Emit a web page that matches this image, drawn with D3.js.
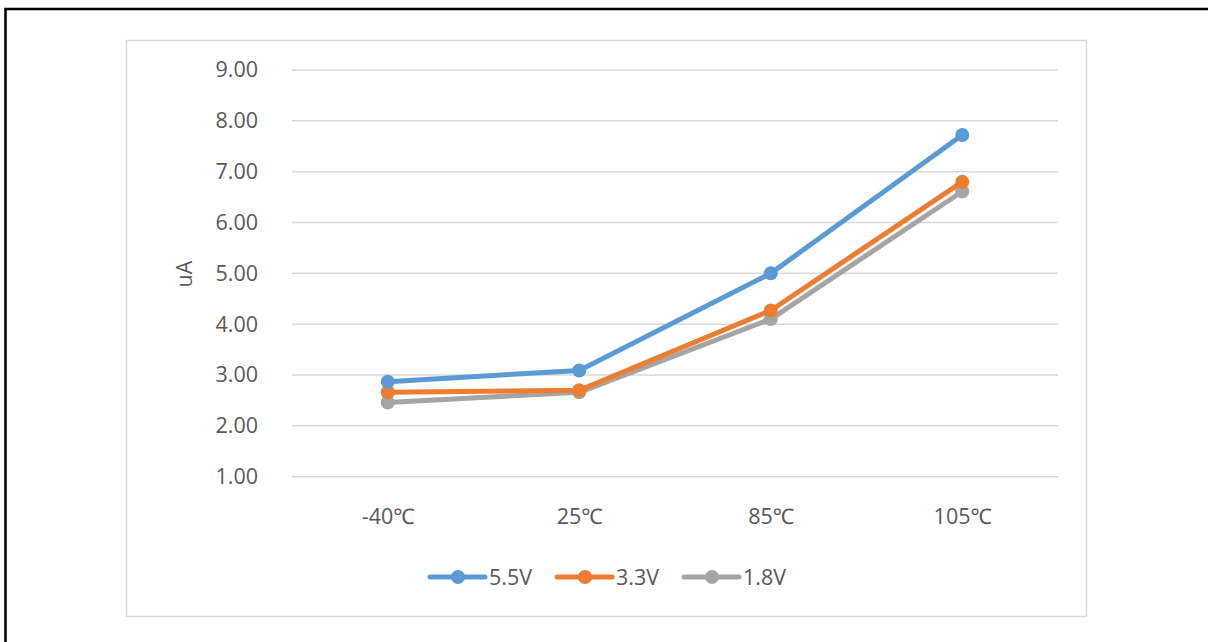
<!DOCTYPE html>
<html>
<head>
<meta charset="utf-8">
<script src="https://cdn.jsdelivr.net/npm/d3@7"></script>
<style>
  html, body { margin: 0; padding: 0; background: #fff; }
  svg { display: block; font-family: "Open Sans", "Noto Sans", sans-serif; }
</style>
</head>
<body>
<svg id="chart" width="1208" height="642"></svg>
<script>
// Supply current (uA) vs temperature for three supply voltages
const categories = ["-40℃", "25℃", "85℃", "105℃"];
const seriesNames = ["5.5V", "3.3V", "1.8V"];
const values55 = [2.87, 3.09, 5.00, 7.72];
const values33 = [2.66, 2.70, 4.27, 6.80];
const values18 = [2.46, 2.66, 4.10, 6.61];
const yTicks = [1, 2, 3, 4, 5, 6, 7, 8, 9];
const colors = ["#5B9BD5", "#ED7D31", "#A5A5A5"];

const series = seriesNames.map((name, i) => ({
  name,
  color: colors[i],
  values: [values55, values33, values18][i]
}));

const svg = d3.select("#chart");
const textColor = "#595959";
const fontSize = 21.5;

// outer frame
svg.append("rect")
  .attr("x", 5.5).attr("y", 9)
  .attr("width", 1220).attr("height", 660)
  .attr("fill", "none").attr("stroke", "#000").attr("stroke-width", 2.5);

// chart area border
svg.append("rect")
  .attr("x", 126.5).attr("y", 40.5)
  .attr("width", 960).attr("height", 576)
  .attr("fill", "#fff").attr("stroke", "#d9d9d9").attr("stroke-width", 1.5);

const plot = { left: 292, right: 1058, top: 70, bottom: 476.7 };

const x = d3.scalePoint()
  .domain(categories)
  .range([plot.left, plot.right])
  .padding(0.5);

const y = d3.scaleLinear()
  .domain([1, 9])
  .range([plot.bottom, plot.top]);

// horizontal gridlines
svg.append("g")
  .selectAll("line")
  .data(yTicks)
  .join("line")
  .attr("x1", plot.left).attr("x2", plot.right)
  .attr("y1", d => y(d)).attr("y2", d => y(d))
  .attr("stroke", "#d9d9d9").attr("stroke-width", 1.5);

// y axis labels
const yAxis = svg.append("g")
  .attr("transform", `translate(${plot.left - 34},0)`)
  .call(d3.axisLeft(y).tickValues(yTicks).tickFormat(d3.format(".2f")).tickSize(0).tickPadding(0));
yAxis.select(".domain").remove();
yAxis.selectAll("text")
  .attr("fill", textColor)
  .attr("font-size", fontSize)
  .attr("font-family", "\"Open Sans\", \"Noto Sans\", sans-serif");

// x axis labels
const xAxis = svg.append("g")
  .attr("transform", `translate(0,${plot.bottom})`)
  .call(d3.axisBottom(x).tickSize(0).tickPadding(32));
xAxis.select(".domain").remove();
xAxis.selectAll("text")
  .attr("fill", textColor)
  .attr("font-size", fontSize)
  .attr("font-family", "\"Open Sans\", \"Noto Sans\", sans-serif");

// y axis title
svg.append("text")
  .attr("transform", "translate(192,274) rotate(-90)")
  .attr("text-anchor", "middle")
  .attr("fill", textColor)
  .attr("font-size", fontSize)
  .text("uA");

// series lines and markers
const line = d3.line()
  .x((d, i) => x(categories[i]))
  .y(d => y(d));

const sg = svg.append("g")
  .selectAll("g")
  .data(series.slice().reverse())
  .join("g");

sg.append("path")
  .attr("d", d => line(d.values))
  .attr("fill", "none")
  .attr("stroke", d => d.color)
  .attr("stroke-width", 5)
  .attr("stroke-linejoin", "round")
  .attr("stroke-linecap", "round");

sg.selectAll("circle")
  .data(d => d.values.map((v, i) => ({ v, i, color: d.color })))
  .join("circle")
  .attr("cx", d => x(categories[d.i]))
  .attr("cy", d => y(d.v))
  .attr("r", 7)
  .attr("fill", d => d.color);

// legend
const legend = svg.append("g").attr("transform", "translate(430,577)");
const item = legend.selectAll("g")
  .data(series)
  .join("g")
  .attr("transform", (d, i) => `translate(${i * 127},0)`);
item.append("line")
  .attr("x1", 0).attr("x2", 55)
  .attr("stroke", d => d.color).attr("stroke-width", 5)
  .attr("stroke-linecap", "round");
item.append("circle")
  .attr("cx", 28).attr("r", 7)
  .attr("fill", d => d.color);
item.append("text")
  .attr("x", 59).attr("dy", "0.35em")
  .attr("fill", textColor)
  .attr("font-size", fontSize)
  .text(d => d.name);
</script>
</body>
</html>
